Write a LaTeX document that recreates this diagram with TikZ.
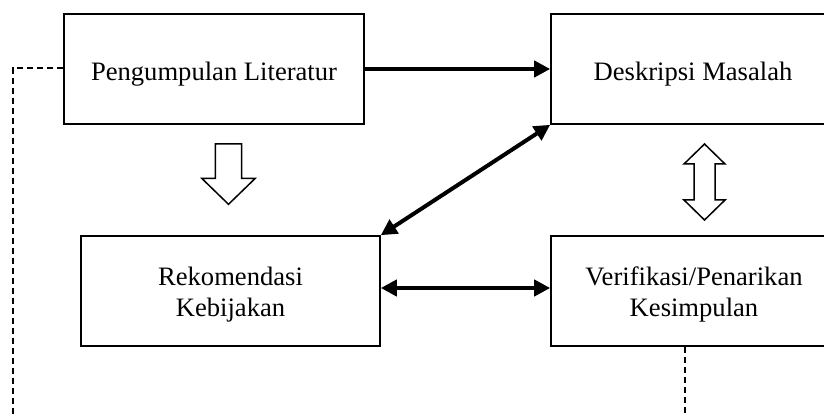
\documentclass[tikz,border=0pt]{standalone}
\usepackage{fontspec}
\setmainfont{Liberation Serif}[Ligatures=NoCommon]
\usetikzlibrary{arrows.meta}
\tikzset{
  boxnode/.style={draw, line width=1.6pt, rectangle, inner sep=0pt, minimum height=110pt},
  txt/.style={inner sep=0pt, anchor=base, font=\fontsize{26.6}{31}\selectfont},
  thickarr/.style={line width=4pt, -{Triangle[length=16pt,width=16pt]}},
  dblarr/.style={line width=4pt, {Triangle[length=16pt,width=16pt]}-{Triangle[length=16pt,width=16pt]}},
  dashline/.style={line width=2pt, dash pattern=on 6pt off 4pt},
  blockarr/.style={draw, line width=1.5pt, fill=white, line join=miter}
}
\begin{document}
\begin{tikzpicture}[x=1pt,y=-1pt]
\useasboundingbox (0,0) rectangle (824,414);
\clip (0,0) rectangle (824,414);
% boxes
\node[boxnode, minimum width=300pt] (lit) at (214,69) {};
\node[boxnode, minimum width=285pt] (desk) at (693.5,69) {};
\node[boxnode, minimum width=299pt] (rek) at (230.5,291) {};
\node[boxnode, minimum width=285pt] (ver) at (693.5,291) {};
% texts
\node[txt] (tlit) at (214,81) {Pengumpulan Literatur};
\node[txt] (tdesk) at (693,80.5) {Deskripsi Masalah};
\node[txt] (trek1) at (230.5,285.5) {Rekomendasi};
\node[txt] (trek2) at (230.5,316.5) {Kebijakan};
\node[txt] (tver1) at (694,285.5) {Verifikasi/Penarikan};
\node[txt] (tver2) at (694,316) {Kesimpulan};
% connectors
\draw[thickarr] (lit.east) -- (desk.west);
\draw[dblarr] (desk.south west) -- (rek.north east);
\draw[dblarr] ([yshift=3pt]rek.east) -- ([yshift=3pt]ver.west);
% dashed lines
\coordinate (dl1) at (13,68);
\coordinate (dl2) at (13,420);
\coordinate (dr) at (685,420);
\draw[dashline] (lit.west |- dl1) -- (dl1) -- (dl2);
\draw[dashline] (ver.south -| dr) -- (dr);
% block arrows
\draw[blockarr] (215.3,144) -- (241.7,144) -- (241.7,178.3) -- (255.3,178.3) -- (228.5,204.3) -- (201.7,178.3) -- (215.3,178.3) -- cycle;
\draw[blockarr] (704.5,144) -- (725,164) -- (715,164) -- (715,200) -- (725,200) -- (704.5,220) -- (684,200) -- (694,200) -- (694,164) -- (684,164) -- cycle;
\end{tikzpicture}
\end{document}
